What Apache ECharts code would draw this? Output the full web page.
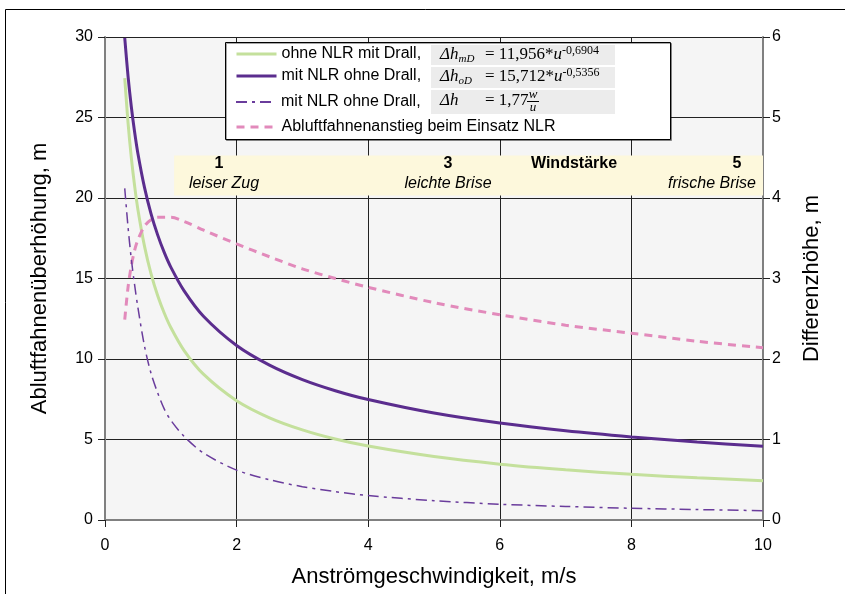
<!DOCTYPE html>
<html>
<head>
<meta charset="utf-8">
<script src="https://cdn.jsdelivr.net/npm/echarts@6/dist/echarts.min.js"></script>
<style>
html,body{margin:0;padding:0;background:#fff;}
#chart{width:845px;height:594px;}
</style>
</head>
<body>
<div id="chart"></div>
<script>
// Anströmgeschwindigkeit u, m/s
var speeds = [0.3,0.35,0.4,0.45,0.5,0.6,0.7,0.8,0.9,1,1.2,1.5,2,2.5,3,3.5,4,5,6,7,8,9,10];
// ohne NLR mit Drall (m)
var ohneNlrMitDrall = [27.45,24.68,22.51,20.75,19.29,17.01,15.29,13.95,12.86,11.96,10.54,9.04,7.41,6.35,5.60,5.03,4.59,3.94,3.47,3.12,2.84,2.62,2.44];
// mit NLR ohne Drall (m)
var mitNlrOhneDrall = [29.94,27.57,25.67,24.10,22.77,20.66,19.02,17.71,16.62,15.71,14.25,12.64,10.84,9.62,8.72,8.03,7.48,6.64,6.02,5.54,5.16,4.84,4.58];
// mit NLR ohne Drall, Δh = 1,77 w/u (m)
var mitNlrOhneDrallW = [20.6,18.2,16.2,14.6,13.2,10.8,9.1,7.9,6.9,6.2,5.2,4.15,3.1,2.5,2.07,1.76,1.52,1.2,0.98,0.84,0.73,0.65,0.58];
// Abluftfahnenanstieg beim Einsatz NLR (Differenzhöhe, m)
var anstiegNlr = [2.49,2.89,3.16,3.35,3.48,3.65,3.73,3.76,3.76,3.76,3.71,3.60,3.43,3.27,3.12,3.00,2.89,2.70,2.55,2.42,2.32,2.22,2.14];

var seriesNames = ['ohne NLR mit Drall,', 'mit NLR ohne Drall,', 'mit NLR ohne Drall, ', 'Abluftfahnenanstieg beim Einsatz NLR'];
var xTicks = [0, 10, 2];      // min, max, interval
var yLeftTicks = [0, 30, 5];
var yRightTicks = [0, 6, 1];
// Windstärke band extent (x range, y range on left axis)
var bandX = [1.05, 10];
var bandY = [20.16, 22.64];

function pairs(xs, ys){ return xs.map(function(x,i){ return [x, ys[i]]; }); }

var SANS = 'Liberation Sans, Arial, sans-serif';
var SERIF = 'Liberation Serif, Times New Roman, serif';
var chart = echarts.init(document.getElementById('chart'), null, {renderer:'canvas'});

function legendAt(name, top, width){
  return {
    data:[name], orient:'vertical', left:235, top:top, padding:0,
    itemWidth:40, itemHeight:14, z:120,
    textStyle:{fontSize:16, fontFamily:SANS, color:'#000'},
    itemStyle:{color:'rgba(0,0,0,0)', borderWidth:0, opacity:0},
    lineStyle:{width:width}
  };
}

var formulaRich = {
  d:{fontFamily:SERIF, fontStyle:'italic', fontSize:17, lineHeight:20, fill:'#000'},
  s:{fontFamily:SERIF, fontStyle:'italic', fontSize:11, lineHeight:12, verticalAlign:'bottom', fill:'#000'},
  n:{fontFamily:SERIF, fontSize:17, lineHeight:20, fill:'#000'},
  i:{fontFamily:SERIF, fontStyle:'italic', fontSize:17, lineHeight:20, fill:'#000'},
  p:{fontFamily:SERIF, fontSize:12, lineHeight:12, verticalAlign:'top', fill:'#000'}
};
function ftext(x, y, t){
  return {type:'text', x:x, y:y, z:110, style:{text:t, rich:formulaRich, align:'left', verticalAlign:'middle'}};
}
function btext(x, y, t, opts){
  return {type:'text', x:x, y:y, z:110, style:{text:t, fontFamily:SANS, fontSize:16,
    fontWeight:opts.bold?'bold':'normal', fontStyle:opts.italic?'italic':'normal',
    fill:'#000', align:opts.align||'center', verticalAlign:'middle'}};
}

var option = {
  backgroundColor:'#fff',
  animation:false,
  grid:{left:105, right:82, top:37, bottom:74, show:true, backgroundColor:'#f5f5f5', borderWidth:0},
  legend:[
    legendAt(seriesNames[0], 46, 3),
    legendAt(seriesNames[1], 68, 3),
    legendAt(seriesNames[2], 94, 2),
    legendAt(seriesNames[3], 119, 3)
  ],
  xAxis:{
    type:'value', min:xTicks[0], max:xTicks[1], interval:xTicks[2],
    name:'Anströmgeschwindigkeit, m/s', nameLocation:'middle', nameGap:46,
    nameTextStyle:{fontSize:22, fontFamily:SANS, color:'#000'},
    axisLine:{show:true, onZero:false, lineStyle:{color:'#808080', width:2}},
    axisTick:{show:true, length:7, lineStyle:{color:'#222', width:1}},
    axisLabel:{fontSize:16, fontFamily:SANS, color:'#000', margin:18},
    splitLine:{show:true, lineStyle:{color:'#222', width:1}}
  },
  yAxis:[
    {
      type:'value', min:yLeftTicks[0], max:yLeftTicks[1], interval:yLeftTicks[2], position:'left',
      name:'Abluftfahnenüberhöhung, m', nameLocation:'middle', nameGap:54,
      nameTextStyle:{fontSize:22, fontFamily:SANS, color:'#000'},
      axisLine:{show:true, lineStyle:{color:'#808080', width:2}},
      axisTick:{show:true, length:7, lineStyle:{color:'#222', width:1}},
      axisLabel:{fontSize:16, fontFamily:SANS, color:'#000', margin:12},
      splitLine:{show:true, lineStyle:{color:'#222', width:1}}
    },
    {
      type:'value', min:yRightTicks[0], max:yRightTicks[1], interval:yRightTicks[2], position:'right',
      name:'Differenzhöhe, m', nameLocation:'middle', nameGap:38,
      nameTextStyle:{fontSize:22, fontFamily:SANS, color:'#000'},
      axisLine:{show:true, lineStyle:{color:'#808080', width:2}},
      axisTick:{show:true, length:7, lineStyle:{color:'#222', width:1}},
      axisLabel:{fontSize:16, fontFamily:SANS, color:'#000', margin:9},
      splitLine:{show:false}
    }
  ],
  series:[
    {
      name:seriesNames[0], type:'line', symbol:'none', smooth:0.3, z:3,
      data:pairs(speeds, ohneNlrMitDrall),
      lineStyle:{color:'#c4e09c', width:3}, itemStyle:{color:'#c4e09c'},
      markArea:{silent:true, itemStyle:{color:'#fdf8dc'},
        data:[[{coord:[bandX[0], bandY[0]]},{coord:[bandX[1], bandY[1]]}]]}
    },
    {
      name:seriesNames[1], type:'line', symbol:'none', smooth:0.3, z:4,
      data:pairs(speeds, mitNlrOhneDrall),
      lineStyle:{color:'#5b2d8e', width:3}, itemStyle:{color:'#5b2d8e'}
    },
    {
      name:seriesNames[2], type:'line', symbol:'none', smooth:0.3, z:4,
      data:pairs(speeds, mitNlrOhneDrallW),
      lineStyle:{color:'#6a3c9c', width:1.5, type:[11,5,3,5]}, itemStyle:{color:'#6a3c9c'}
    },
    {
      name:seriesNames[3], type:'line', symbol:'none', smooth:0.3, yAxisIndex:1, z:3,
      data:pairs(speeds, anstiegNlr),
      lineStyle:{color:'#e28abb', width:3, type:[8,6]}, itemStyle:{color:'#e28abb'}
    }
  ],
  graphic:[
    {type:'rect', z:-10, shape:{x:5.5, y:9.5, width:900, height:700}, style:{fill:null, stroke:'#000', lineWidth:1}},
    {type:'rect', z:100, shape:{x:225.5, y:42.5, width:445, height:97},
      style:{fill:'#fff', stroke:'#000', lineWidth:1, shadowColor:'rgba(0,0,0,0.35)', shadowOffsetX:1, shadowOffsetY:1}},
    {type:'rect', z:105, shape:{x:431, y:45, width:184, height:20}, style:{fill:'#ececec'}},
    {type:'rect', z:105, shape:{x:431, y:67, width:184, height:21}, style:{fill:'#ececec'}},
    {type:'rect', z:105, shape:{x:431, y:90, width:184, height:24}, style:{fill:'#ececec'}},
    ftext(440, 55, '{d|Δh}{s|mD}'),
    ftext(485, 55, '{n|= 11,956}{n|*}{i|u}{p|-0,6904}'),
    ftext(440, 77, '{d|Δh}{s|oD}'),
    ftext(485, 77, '{n|= 15,712}{n|*}{i|u}{p|-0,5356}'),
    ftext(440, 101, '{d|Δh}'),
    ftext(485, 101, '{n|= 1,77}'),
    {type:'text', x:533, y:95, z:110, style:{text:'w', fontFamily:SERIF, fontStyle:'italic', fontSize:13, fill:'#000', align:'center', verticalAlign:'middle'}},
    {type:'line', z:110, shape:{x1:527, y1:101.5, x2:539, y2:101.5}, style:{stroke:'#000', lineWidth:1}},
    {type:'text', x:533, y:108, z:110, style:{text:'u', fontFamily:SERIF, fontStyle:'italic', fontSize:13, fill:'#000', align:'center', verticalAlign:'middle'}},
    btext(219, 164, '1', {bold:true}),
    btext(224, 184, 'leiser Zug', {italic:true}),
    btext(448, 164, '3', {bold:true}),
    btext(448, 184, 'leichte Brise', {italic:true}),
    btext(574, 164, 'Windstärke', {bold:true}),
    btext(737, 164, '5', {bold:true}),
    btext(756, 184, 'frische Brise', {italic:true, align:'right'})
  ]
};
chart.setOption(option);
</script>
</body>
</html>
